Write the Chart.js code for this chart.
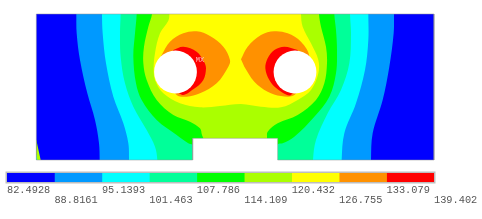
<!DOCTYPE html>
<html>
<head>
<meta charset="utf-8">
<style>
html, body { margin: 0; padding: 0; background: #fff; }
canvas { position: absolute; left: 0; top: 0; }
</style>
<script src="https://cdn.jsdelivr.net/npm/chart.js@4"></script>
</head>
<body>
<canvas id="plate" width="482" height="219"></canvas>
<canvas id="bar" width="482" height="219"></canvas>
<script>
// contour levels of the colour bar
const levels = [82.4928, 88.8161, 95.1393, 101.463, 107.786, 114.109, 120.432, 126.755, 133.079, 139.402];
const tickRows = [0, 1, 0, 1, 0, 1, 0, 1, 0, 1];
const tickText = ['82.4928', '88.8161', '95.1393', '101.463', '107.786', '114.109', '120.432', '126.755', '133.079', '139.402'];
const barColors = ['#0000ff', '#0099ff', '#00ffff', '#00ff99', '#00ff00', '#aaff00', '#ffff00', '#ff9100', '#ff0000'];

// plate in model units, each band is everything above one level
const plateOutline = [[0, 0], [0, 438], [1193, 438], [1193, 0], [724, 0], [724, 65], [469, 65], [469, 0], [0, 0]];
const band1 = [[-60, -60], [-60, 500], [1260, 500], [1260, -60]];
const band2 = [[120, 500], [120, 438], [121, 380], [131, 300], [153, 200], [176, 120], [188, 50], [190, 0], [190, -60],
  [1004, -60], [1004, 0], [1009, 80], [1039, 180], [1059, 280], [1072, 380], [1073, 438], [1073, 500]];
const band3 = [[197, 500], [197, 438], [199, 380], [209, 290], [231, 190], [261, 110], [276, 50], [278, 0], [278, -60],
  [916, -60], [916, 0], [924, 80], [959, 170], [986, 270], [996, 360], [996, 438], [996, 500]];
const band4 = [[253, 500], [253, 438], [251, 380], [253, 310], [266, 230], [291, 160], [331, 90], [356, 40], [363, 0], [363, -60],
  [830, -60], [830, 0], [839, 60], [874, 140], [914, 210], [939, 290], [944, 380], [941, 438], [941, 500]];
const band5 = [[301, 500], [301, 438], [296, 380], [291, 310], [299, 230], [316, 180], [361, 120], [421, 75], [456, 50], [469, 46], [500, 30],
  [700, 30], [726, 48], [739, 50], [774, 70], [834, 130], [879, 190], [899, 260], [902, 330], [899, 390], [894, 438], [894, 500]];
const band6 = [[347, 500], [347, 438], [336, 400], [323, 340], [321, 290], [331, 240], [361, 180], [411, 135], [461, 115], [491, 95], [497, 75], [501, 65], [505, 40],
  [690, 40], [692, 65], [694, 85], [724, 110], [784, 135], [839, 180], [864, 230], [872, 290], [869, 340], [854, 400], [848, 438], [848, 500]];
const band7 = [[399, 500], [399, 438], [396, 418], [371, 380], [356, 320], [352, 265], [358, 235], [381, 200], [431, 170], [491, 158], [551, 162], [614, 168],
  [674, 160], [734, 158], [784, 180], [824, 210], [846, 260], [846, 300], [824, 350], [799, 400], [794, 438], [794, 500]];
const band8Left = [[369, 300], [376, 315], [401, 355], [441, 380], [481, 386], [521, 372], [561, 340], [581, 300], [576, 280], [541, 230], [491, 200], [451, 190], [421, 195], [400, 230], [370, 280]];
const band8Right = [[614, 302], [634, 340], [674, 375], [714, 386], [754, 380], [794, 355], [819, 310], [800, 240], [774, 195], [734, 192], [694, 205], [654, 235], [624, 280]];
const band9Left = [[411, 330], [441, 340], [481, 325], [503, 295], [509, 275], [501, 240], [471, 212], [436, 196], [391, 250]];
const band9Right = [[784, 330], [744, 340], [714, 330], [694, 305], [687, 275], [699, 240], [724, 212], [764, 195], [794, 260]];
const cornerWedge = [[-20, 60], [0, 60], [13, 0], [13, -20], [-20, -20]];
const cornerTip = [[-20, 15], [0, 15], [3, 0], [3, -20], [-20, -20]];
const notch = [[469, -60], [469, 65], [724, 65], [724, -60]];
const holes = [[417.5, 264], [776, 264]];
const maxMark = [491, 300];

function band(points, color, tension) {
  return {
    data: points, showLine: true, fill: 'shape', backgroundColor: color,
    borderWidth: 0, pointRadius: 0, tension: tension === undefined ? 0.35 : tension
  };
}

// chart.js draws the first dataset on top, so list them from the top down
const plateSets = [
  { data: holes, showLine: false, pointRadius: 21.4, pointBackgroundColor: '#fff', pointBorderWidth: 0, clip: false },
  { data: plateOutline, showLine: true, fill: false, borderColor: 'rgba(150,150,150,0.5)', borderWidth: 1, pointRadius: 0, tension: 0, clip: 2 },
  band(notch, '#fff', 0),
  band(band9Right, barColors[8]),
  band(band9Left, barColors[8]),
  band(band8Right, barColors[7]),
  band(band8Left, barColors[7]),
  band(band7, barColors[6]),
  band(band6, barColors[5]),
  band(band5, barColors[4]),
  band(band4, barColors[3]),
  band(band3, barColors[2]),
  band(band2, barColors[1]),
  band(cornerTip, barColors[2], 0),
  band(cornerWedge, barColors[5], 0),
  band(band1, barColors[0], 0)
];

const mxLabel = {
  id: 'mxLabel',
  afterDatasetsDraw(chart) {
    const ctx = chart.ctx;
    ctx.save();
    ctx.fillStyle = 'rgba(255,215,215,0.85)';
    ctx.font = '7px "Liberation Mono"';
    ctx.textAlign = 'center';
    ctx.textBaseline = 'middle';
    ctx.fillText('MX', chart.scales.x.getPixelForValue(maxMark[0]), chart.scales.y.getPixelForValue(maxMark[1]));
    ctx.restore();
  }
};

new Chart(document.getElementById('plate'), {
  type: 'scatter',
  data: { datasets: plateSets },
  plugins: [mxLabel],
  options: {
    responsive: false,
    animation: false,
    events: [],
    layout: { autoPadding: false, padding: { left: 36.33, right: 48, top: 14, bottom: 59 } },
    plugins: { legend: { display: false }, tooltip: { enabled: false } },
    scales: {
      x: { type: 'linear', display: false, min: 0, max: 1193 },
      y: { type: 'linear', display: false, min: 0, max: 438 }
    }
  }
});

const barFrame = {
  id: 'barFrame',
  beforeDatasetsDraw(chart) {
    const a = chart.chartArea;
    chart.ctx.save();
    chart.ctx.fillStyle = '#bdbdbd';
    chart.ctx.fillRect(a.left - 1.5, a.top - 1.5, a.width + 3, a.height + 3);
    chart.ctx.restore();
  }
};

new Chart(document.getElementById('bar'), {
  type: 'bar',
  data: {
    labels: ['levels'],
    datasets: barColors.map((c, i) => ({
      data: [[levels[i], levels[i + 1]]],
      backgroundColor: c,
      borderWidth: 0,
      barPercentage: 1,
      categoryPercentage: 1,
      grouped: false
    }))
  },
  plugins: [barFrame],
  options: {
    indexAxis: 'y',
    responsive: false,
    animation: false,
    events: [],
    layout: { autoPadding: false, padding: { left: 7, right: 48, top: 173, bottom: 13 } },
    plugins: { legend: { display: false }, tooltip: { enabled: false } },
    scales: {
      y: { display: false, grid: { display: false } },
      x: {
        min: levels[0],
        max: levels[levels.length - 1],
        border: { display: false },
        grid: { display: false, drawTicks: false },
        afterBuildTicks(axis) { axis.ticks = levels.map(v => ({ value: v })); },
        afterFit(axis) { axis.height = 24; },
        ticks: {
          autoSkip: false,
          maxRotation: 0,
          minRotation: 0,
          align: 'start',
          padding: 3.5,
          color: '#555',
          font: { family: '"Liberation Mono"', size: 10.3, lineHeight: 0.95 },
          callback(value, i) { return tickRows[i] ? ['', tickText[i]] : [tickText[i], '']; }
        }
      }
    }
  }
});
</script>
</body>
</html>
